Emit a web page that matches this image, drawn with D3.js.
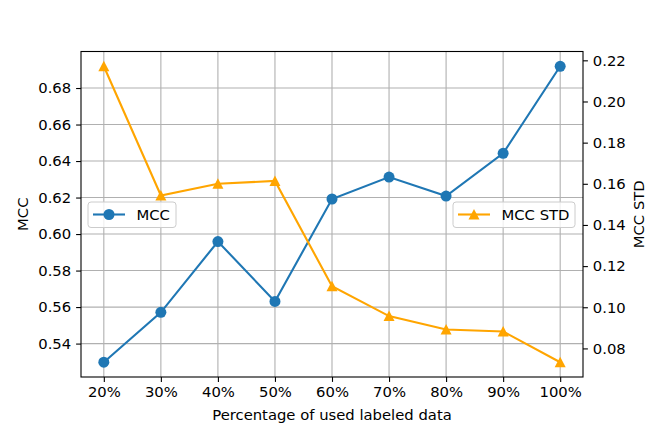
<!DOCTYPE html>
<html>
<head>
<meta charset="utf-8">
<script src="https://cdn.jsdelivr.net/npm/d3@7"></script>
<style>
  body { margin: 0; background: #fff; }
  text { font-family: "DejaVu Sans", sans-serif; fill: #000; }
</style>
</head>
<body>
<div id="chart"></div>
<script>
// data
var categories = ["20%", "30%", "40%", "50%", "60%", "70%", "80%", "90%", "100%"];
var mcc = [0.5298, 0.5571, 0.5959, 0.5631, 0.6192, 0.6312, 0.6208, 0.6442, 0.6919];
var mccStd = [0.2171, 0.1543, 0.1600, 0.1614, 0.1102, 0.0957, 0.0892, 0.0882, 0.0733];
var leftTicks = [0.54, 0.56, 0.58, 0.60, 0.62, 0.64, 0.66, 0.68];
var rightTicks = [0.08, 0.10, 0.12, 0.14, 0.16, 0.18, 0.20, 0.22];

var W = 648, H = 432;
var margin = { top: 51.5, right: 65, bottom: 55, left: 81 },
    width = W - margin.left - margin.right,
    height = H - margin.top - margin.bottom;

var fs = 14.8;
var blue = "#1f77b4", orange = "#ffa500";

// matplotlib-like 5% margins
function padded(vals) {
    var lo = d3.min(vals), hi = d3.max(vals), p = (hi - lo) * 0.05;
    return [lo - p, hi + p];
}

var x = d3.scaleLinear()
    .domain(padded(d3.range(categories.length)))
    .range([0, width]);
var y = d3.scaleLinear().domain(padded(mcc)).range([height, 0]);
var y2 = d3.scaleLinear().domain(padded(mccStd)).range([height, 0]);

var svg = d3.select("#chart").append("svg")
    .attr("width", W)
    .attr("height", H);
svg.append("rect").attr("width", W).attr("height", H).attr("fill", "#fff");

var g = svg.append("g")
    .attr("transform", "translate(" + margin.left + "," + margin.top + ")");

// grid
g.append("g").selectAll("line").data(d3.range(categories.length)).enter().append("line")
    .attr("x1", function (d) { return x(d); })
    .attr("x2", function (d) { return x(d); })
    .attr("y1", 0).attr("y2", height)
    .attr("stroke", "#b0b0b0").attr("stroke-width", 1.1);
g.append("g").selectAll("line").data(leftTicks).enter().append("line")
    .attr("x1", 0).attr("x2", width)
    .attr("y1", function (d) { return y(d); })
    .attr("y2", function (d) { return y(d); })
    .attr("stroke", "#b0b0b0").attr("stroke-width", 1.1);

// axes
function styleAxis(sel) {
    sel.select(".domain").remove();
    sel.selectAll(".tick line").attr("stroke", "#000").attr("stroke-width", 1.1);
    sel.selectAll(".tick text").style("font-size", fs + "px").style("font-family", "DejaVu Sans");
}

g.append("g")
    .attr("transform", "translate(0," + height + ")")
    .call(d3.axisBottom(x).tickValues(d3.range(categories.length))
        .tickFormat(function (i) { return categories[i]; })
        .tickSize(4.9).tickPadding(4.5))
    .call(styleAxis);

g.append("g")
    .call(d3.axisLeft(y).tickValues(leftTicks).tickFormat(d3.format(".2f"))
        .tickSize(4.9).tickPadding(4.9))
    .call(styleAxis);

g.append("g")
    .attr("transform", "translate(" + width + ",0)")
    .call(d3.axisRight(y2).tickValues(rightTicks).tickFormat(d3.format(".2f"))
        .tickSize(4.9).tickPadding(4.9))
    .call(styleAxis);

// MCC line
var lineMcc = d3.line()
    .x(function (d, i) { return x(i); })
    .y(function (d) { return y(d); });
g.append("path").datum(mcc)
    .attr("d", lineMcc)
    .attr("fill", "none").attr("stroke", blue).attr("stroke-width", 2.1);
g.append("g").selectAll("circle").data(mcc).enter().append("circle")
    .attr("cx", function (d, i) { return x(i); })
    .attr("cy", function (d) { return y(d); })
    .attr("r", 5.5).attr("fill", blue);

// legend box (MCC one sits under the twin axes lines)
function legend(lx, ly, w, label, color, marker) {
    var lg = g.append("g").attr("transform", "translate(" + lx + "," + ly + ")");
    lg.append("rect").attr("width", w).attr("height", 25.5).attr("rx", 3)
        .attr("fill", "#fff").attr("fill-opacity", 0.8)
        .attr("stroke", "#cccccc").attr("stroke-width", 1);
    lg.append("line").attr("x1", 5).attr("x2", 37).attr("y1", 12.5).attr("y2", 12.5)
        .attr("stroke", color).attr("stroke-width", 2.1);
    lg.append("path").attr("d", marker).attr("transform", "translate(21,12.5)").attr("fill", color);
    lg.append("text").attr("x", 48.5).attr("y", 12.5).attr("dy", "0.36em")
        .style("font-size", fs + "px").text(label);
}

var circleSym = d3.symbol().type(d3.symbolCircle).size(Math.PI * 5.5 * 5.5)();
var triSym = "M0,-5.5L5.5,5L-5.5,5Z";

legend(88 - margin.left, 202 - margin.top, 88, "MCC", blue, circleSym);

// MCC STD line (twin axes)
var lineStd = d3.line()
    .x(function (d, i) { return x(i); })
    .y(function (d) { return y2(d); });
g.append("path").datum(mccStd)
    .attr("d", lineStd)
    .attr("fill", "none").attr("stroke", orange).attr("stroke-width", 2.1);
g.append("g").selectAll("path").data(mccStd).enter().append("path")
    .attr("d", triSym)
    .attr("transform", function (d, i) { return "translate(" + x(i) + "," + y2(d) + ")"; })
    .attr("fill", orange);

legend(453 - margin.left, 202 - margin.top, 122, "MCC STD", orange, triSym);

// frame
g.append("rect").attr("width", width).attr("height", height)
    .attr("fill", "none").attr("stroke", "#000").attr("stroke-width", 1.1);

// axis labels
svg.append("text")
    .attr("x", margin.left + width / 2).attr("y", 420)
    .attr("text-anchor", "middle").style("font-size", fs + "px")
    .text("Percentage of used labeled data");
svg.append("text")
    .attr("transform", "translate(28," + (margin.top + height / 2) + ") rotate(-90)")
    .attr("text-anchor", "middle").style("font-size", fs + "px")
    .text("MCC");
svg.append("text")
    .attr("transform", "translate(644," + (margin.top + height / 2) + ") rotate(-90)")
    .attr("text-anchor", "middle").style("font-size", fs + "px")
    .text("MCC STD");
</script>
</body>
</html>
